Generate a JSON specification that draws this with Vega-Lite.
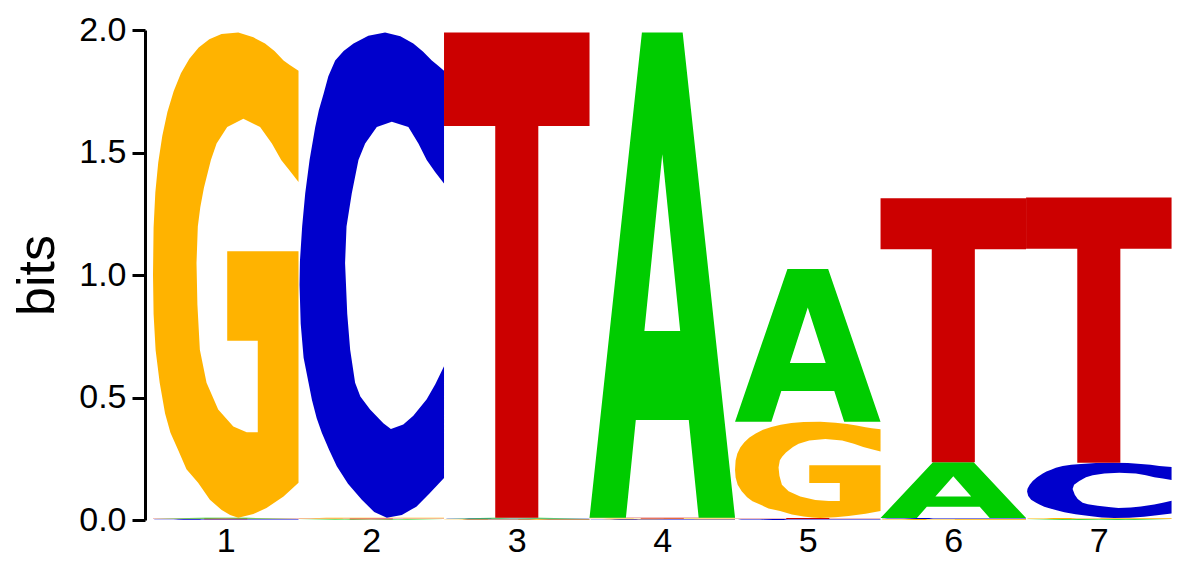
{
  "$schema": "https://vega.github.io/schema/vega-lite/v6.json",
  "description": "Sequence logo, 7 positions, letter heights in bits",
  "width": 1027,
  "height": 490,
  "autosize": "none",
  "padding": {"left": 145, "top": 30, "right": 22, "bottom": 45},
  "config": {"view": {"stroke": null}, "font": "Liberation Sans"},
  "datasets": {
    "glyphs": [
      {
        "base": "G",
        "u": [1,0.94,0.897,0.835,0.77,0.69,0.586,0.471,0.387,0.314,0.25,0.192,0.142,0.099,0.064,0.036,0.016,0.004,0,0.004,0.018,0.046,0.083,0.12,0.172,0.23,0.31,0.391,0.472,0.53,0.586,0.69,0.78,0.897,1,1,0.51,0.51,0.72,0.72,0.644,0.552,0.448,0.368,0.322,0.305,0.299,0.308,0.325,0.35,0.398,0.437,0.51,0.621,0.736,0.817,0.881,0.94,1],
        "v": [0.921,0.933,0.942,0.962,0.977,0.99,1,0.997,0.986,0.969,0.946,0.916,0.879,0.836,0.787,0.732,0.67,0.598,0.5,0.42,0.345,0.278,0.215,0.175,0.14,0.1,0.072,0.037,0.016,0.006,0,0.008,0.02,0.044,0.072,0.549,0.549,0.365,0.365,0.176,0.176,0.188,0.223,0.278,0.346,0.44,0.525,0.6,0.64,0.68,0.737,0.771,0.805,0.822,0.805,0.771,0.737,0.715,0.692]
      },
      {
        "base": "C",
        "u": [1,0.958,0.916,0.855,0.789,0.7,0.595,0.48,0.378,0.31,0.252,0.205,0.172,0.14,0.115,0.076,0.046,0.025,0.01,0.007,0.015,0.035,0.069,0.092,0.125,0.16,0.21,0.263,0.34,0.435,0.52,0.607,0.71,0.81,0.9,1,1,0.94,0.881,0.789,0.72,0.635,0.583,0.492,0.425,0.389,0.355,0.335,0.32,0.33,0.366,0.412,0.458,0.538,0.641,0.755,0.824,0.881,0.94,1],
        "v": [0.921,0.932,0.942,0.961,0.977,0.992,1,0.993,0.977,0.962,0.942,0.91,0.873,0.84,0.805,0.737,0.668,0.6,0.53,0.48,0.4,0.33,0.278,0.243,0.205,0.175,0.14,0.106,0.07,0.037,0.012,0,0.006,0.023,0.05,0.082,0.312,0.275,0.244,0.21,0.192,0.183,0.195,0.223,0.25,0.278,0.346,0.42,0.525,0.6,0.668,0.737,0.771,0.805,0.816,0.805,0.771,0.737,0.712,0.689]
      },
      {
        "base": "T",
        "u": [0,1,1,0.648,0.648,0.352,0.352,0],
        "v": [1,1,0.807,0.807,0,0,0.807,0.807]
      },
      {
        "base": "A",
        "u": [0,0.36,0.5,0.5,0.377,0.623,0.5,0.5,0.64,1,0.75,0.682,0.318,0.25],
        "v": [0,1,1,0.749,0.385,0.385,0.749,1,1,0,0,0.2017,0.2017,0]
      }
    ]
  },
  "data": {
    "values": [
      {"position": 1, "base": "C", "bottom": 0, "top": 0.003},
      {"position": 1, "base": "T", "bottom": 0.003, "top": 0.006},
      {"position": 1, "base": "A", "bottom": 0.006, "top": 0.009},
      {"position": 1, "base": "G", "bottom": 0.009, "top": 1.99},
      {"position": 2, "base": "A", "bottom": 0, "top": 0.003},
      {"position": 2, "base": "T", "bottom": 0.003, "top": 0.006},
      {"position": 2, "base": "G", "bottom": 0.006, "top": 0.009},
      {"position": 2, "base": "C", "bottom": 0.009, "top": 1.99},
      {"position": 3, "base": "G", "bottom": 0, "top": 0.003},
      {"position": 3, "base": "C", "bottom": 0.003, "top": 0.006},
      {"position": 3, "base": "A", "bottom": 0.006, "top": 0.009},
      {"position": 3, "base": "T", "bottom": 0.009, "top": 1.99},
      {"position": 4, "base": "C", "bottom": 0, "top": 0.003},
      {"position": 4, "base": "G", "bottom": 0.003, "top": 0.006},
      {"position": 4, "base": "T", "bottom": 0.006, "top": 0.009},
      {"position": 4, "base": "A", "bottom": 0.009, "top": 1.99},
      {"position": 5, "base": "C", "bottom": 0, "top": 0.004},
      {"position": 5, "base": "T", "bottom": 0.004, "top": 0.008},
      {"position": 5, "base": "G", "bottom": 0.008, "top": 0.401},
      {"position": 5, "base": "A", "bottom": 0.401, "top": 1.024},
      {"position": 6, "base": "G", "bottom": 0, "top": 0.004},
      {"position": 6, "base": "C", "bottom": 0.004, "top": 0.008},
      {"position": 6, "base": "A", "bottom": 0.008, "top": 0.236},
      {"position": 6, "base": "T", "bottom": 0.236, "top": 1.313},
      {"position": 7, "base": "A", "bottom": 0, "top": 0.004},
      {"position": 7, "base": "G", "bottom": 0.004, "top": 0.008},
      {"position": 7, "base": "C", "bottom": 0.008, "top": 0.234},
      {"position": 7, "base": "T", "bottom": 0.234, "top": 1.316}
    ]
  },
  "transform": [
    {
      "lookup": "base",
      "from": {"data": {"name": "glyphs"}, "key": "base", "fields": ["u", "v"]}
    },
    {"flatten": ["u", "v"]},
    {"calculate": "datum.position - 0.5 + datum.u", "as": "gx"},
    {"calculate": "datum.bottom + datum.v * (datum.top - datum.bottom)", "as": "gy"},
    {"calculate": "datum.position + '-' + datum.base", "as": "glyph"}
  ],
  "mark": {"type": "line", "interpolate": "linear-closed", "strokeWidth": 0},
  "encoding": {
    "x": {
      "field": "gx",
      "type": "quantitative",
      "scale": {"domain": [0.445, 7.503], "nice": false, "zero": false},
      "axis": {
        "values": [1, 2, 3, 4, 5, 6, 7],
        "format": "d",
        "title": null,
        "grid": false,
        "domain": false,
        "ticks": false,
        "labelFontSize": 34,
        "labelPadding": 4,
        "labelColor": "black"
      }
    },
    "y": {
      "field": "gy",
      "type": "quantitative",
      "scale": {"domain": [0, 2], "nice": false},
      "axis": {
        "values": [0, 0.5, 1, 1.5, 2],
        "format": ".1f",
        "title": "bits",
        "grid": false,
        "domainColor": "black",
        "domainWidth": 3,
        "tickColor": "black",
        "tickWidth": 3,
        "tickSize": 13,
        "labelFontSize": 34,
        "labelPadding": 6,
        "labelColor": "black",
        "titleFontSize": 52,
        "titleFontWeight": "normal",
        "titleColor": "black",
        "titleAngle": 270,
        "titleX": -92,
        "titleY": 245,
        "titleAlign": "center",
        "titleBaseline": "alphabetic"
      }
    },
    "detail": {"field": "glyph", "type": "nominal"},
    "order": {"value": null},
    "fill": {
      "field": "base",
      "type": "nominal",
      "scale": {"domain": ["A", "C", "G", "T"], "range": ["#00CC00", "#0000CC", "#FFB300", "#CC0000"]},
      "legend": null
    }
  }
}
